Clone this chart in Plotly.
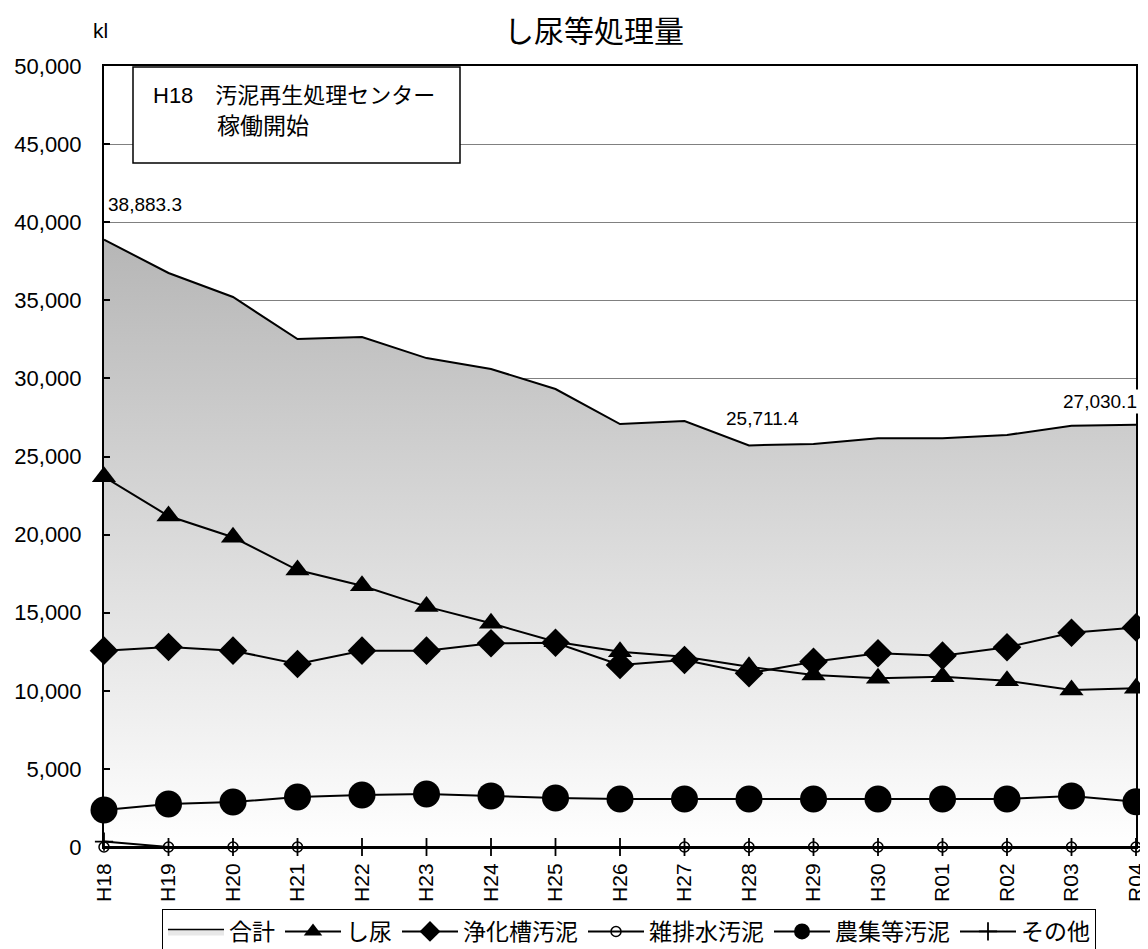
import plotly.graph_objects as go

categories = ["H18", "H19", "H20", "H21", "H22", "H23", "H24", "H25", "H26",
              "H27", "H28", "H29", "H30", "R01", "R02", "R03", "R04"]
total = [38883.3, 36750, 35210, 32520, 32650, 31300, 30600, 29320, 27080,
         27270, 25711.4, 25800, 26165, 26165, 26380, 26970, 27030.1]
shinyo = [23700, 21190, 19830, 17730, 16730, 15390, 14320, 13140, 12500,
          12180, 11540, 11010, 10800, 10900, 10650, 10050, 10160]
jokaso = [12570, 12800, 12570, 11720, 12570, 12570, 13040, 13080, 11650,
          11970, 11120, 11860, 12400, 12250, 12790, 13720, 14060]
zappaisui = [0, 0, 0, 0, None, None, None, None, None,
             0, 0, 0, 0, 0, 0, 0, 0]
noshu = [2370, 2750, 2880, 3200, 3330, 3390, 3270, 3140, 3070,
         3070, 3070, 3070, 3070, 3070, 3070, 3270, 2900]
sonota = [350, 0, 0, 0, 0, 0, 0, 0, 0, 0, 0, 0, 0, 0, 0, 0, 0]

label_points = {"H18": 38883.3, "H28": 25711.4, "R04": 27030.1}

FONT = "Arial, Liberation Sans, Noto Sans CJK JP, sans-serif"
JFONT = "Noto Sans CJK JP, sans-serif"

fig = go.Figure()

fig.add_trace(go.Scatter(
    x=categories, y=total, name="合計", mode="lines",
    line=dict(color="black", width=2),
    fill="tozeroy",
    fillgradient=dict(type="vertical",
                      colorscale=[[0, "#ffffff"], [1, "#b6b6b6"]]),
    showlegend=False,
))
fig.add_trace(go.Scatter(
    x=[None], y=[None], name="合計", mode="lines",
    line=dict(color="black", width=1.5),
    fill="toself", fillcolor="#e8e8e8",
    showlegend=True,
))
fig.add_trace(go.Scatter(
    x=categories, y=shinyo, name="し尿", mode="lines+markers",
    line=dict(color="black", width=2),
    marker=dict(symbol="triangle-up", size=21, color="black"),
    cliponaxis=False,
))
fig.add_trace(go.Scatter(
    x=categories, y=jokaso, name="浄化槽汚泥", mode="lines+markers",
    line=dict(color="black", width=2),
    marker=dict(symbol="diamond", size=22, color="black"),
    cliponaxis=False,
))
fig.add_trace(go.Scatter(
    x=categories, y=zappaisui, name="雑排水汚泥", mode="lines+markers",
    line=dict(color="black", width=2),
    marker=dict(symbol="circle-open", size=10, color="black",
                line=dict(width=1.5, color="black")),
    cliponaxis=False,
))
fig.add_trace(go.Scatter(
    x=categories, y=noshu, name="農集等汚泥", mode="lines+markers",
    line=dict(color="black", width=2),
    marker=dict(symbol="circle", size=27, color="black"),
    cliponaxis=False,
))
fig.add_trace(go.Scatter(
    x=categories, y=sonota, name="その他", mode="lines+markers",
    line=dict(color="black", width=2),
    marker=dict(symbol="cross-thin", size=13, color="black",
                line=dict(width=1.8, color="black")),
    cliponaxis=False,
))

shifts = {"H18": (41, 35), "H28": (13, 27), "R04": (-36, 23)}
for cat, val in label_points.items():
    xs, ys = shifts[cat]
    fig.add_annotation(x=cat, y=val, text=f"{val:,.1f}", showarrow=False,
                       xshift=xs, yshift=ys, bgcolor="white",
                       font=dict(family=FONT, size=19, color="black"))

# note box (paper coords: plot area spans 1032 x 781 px)
fig.add_shape(type="rect", xref="paper", yref="paper",
              x0=(133 - 104) / 1032, x1=(460 - 104) / 1032,
              y0=(847 - 163) / 781, y1=(847 - 67) / 781,
              fillcolor="white", line=dict(color="black", width=1.5),
              layer="above")
fig.add_annotation(xref="paper", yref="paper",
                   x=(151 - 104) / 1032, y=(847 - 95) / 781,
                   xanchor="left", yanchor="middle", showarrow=False,
                   text="H18　汚泥再生処理センター",
                   font=dict(family=FONT, size=22, color="black"))
fig.add_annotation(xref="paper", yref="paper",
                   x=(215 - 104) / 1032, y=(847 - 126) / 781,
                   xanchor="left", yanchor="middle", showarrow=False,
                   text="稼働開始",
                   font=dict(family=FONT, size=23, color="black"))
fig.add_annotation(xref="paper", yref="paper",
                   x=(100 - 104) / 1032, y=(847 - 30) / 781,
                   xanchor="center", yanchor="middle", showarrow=False,
                   text="kl", font=dict(family=FONT, size=21, color="black"))

# page body has an 8px margin, so the figure is 1140 x 941
fig.update_layout(
    width=1140, height=941,
    margin=dict(l=96, r=12, t=58, b=102, autoexpand=False),
    paper_bgcolor="white", plot_bgcolor="white",
    title=dict(text="し尿等処理量", x=586 / 1140, y=1 - 23 / 941,
               xanchor="center", yanchor="middle",
               font=dict(family=JFONT, size=30, color="black")),
    showlegend=True,
    legend=dict(orientation="h", x=(629 - 104) / 1032, xanchor="center",
                y=-(909 - 847) / 781, yanchor="top",
                bgcolor="white", bordercolor="black", borderwidth=1,
                font=dict(family=FONT, size=23, color="black"),
                itemwidth=56, traceorder="normal"),
    font=dict(family=FONT, color="black"),
)
fig.update_xaxes(type="category", range=[0, 16], showgrid=False,
                 showline=True, linecolor="black", linewidth=2, mirror=True,
                 tickangle=-90, ticks="", tickfont=dict(family=FONT, size=21),
                 ticklabelstandoff=6, automargin=False, zeroline=False)
fig.update_yaxes(range=[0, 50000], dtick=5000, tickformat=",",
                 showgrid=True, gridcolor="#808080", gridwidth=1,
                 showline=True, linecolor="black", linewidth=2, mirror=True,
                 ticks="inside", ticklen=6, tickwidth=2, tickcolor="black",
                 tickfont=dict(family=FONT, size=22), ticklabelstandoff=16,
                 automargin=False, zeroline=False)

fig.write_html("out.html")
